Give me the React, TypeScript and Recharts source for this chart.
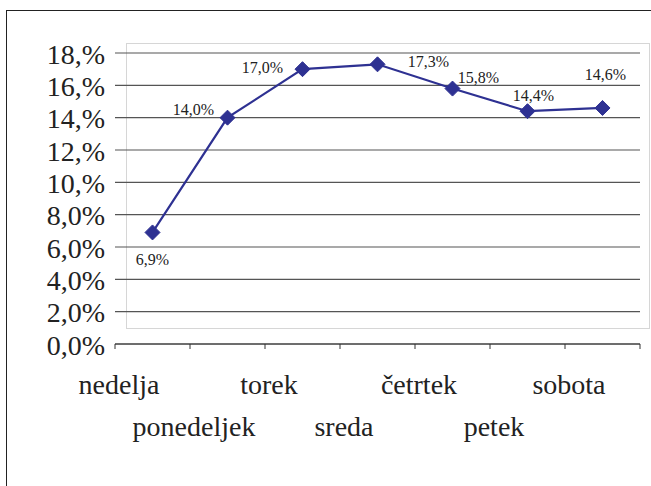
import React from 'react';
import { LineChart, Line, XAxis, YAxis, CartesianGrid } from 'recharts';

const DAYS = ['nedelja', 'ponedeljek', 'torek', 'sreda', 'četrtek', 'petek', 'sobota'];
const SHARES = [6.9, 14.0, 17.0, 17.3, 15.8, 14.4, 14.6];
const VALUE_LABELS = ['6,9%', '14,0%', '17,0%', '17,3%', '15,8%', '14,4%', '14,6%'];
const Y_TICKS = [0, 2, 4, 6, 8, 10, 12, 14, 16, 18];
const Y_TICK_LABELS = ['0,0%', '2,0%', '4,0%', '6,0%', '8,0%', '10,%', '12,%', '14,%', '16,%', '18,%'];
const X_TICKS = [0, 1, 2, 3, 4, 5, 6, 7];

const data = DAYS.map((day, i) => ({ pos: i + 0.5, day, share: SHARES[i], label: VALUE_LABELS[i] }));

// label placement offsets (dx, dy) relative to each point
const LABEL_OFFSETS: [number, number][] = [
  [0, 27], [-34, -8], [-40, -2], [51, -3], [26, -11], [6, -16], [3, -33],
];

const SERIF = '"Liberation Serif", "Times New Roman", Times, serif';
const LINE_COLOR = '#2E3192';

const Diamond = (props: any) => {
  const { cx, cy } = props;
  if (cx == null || cy == null) return null;
  const r = 7.5;
  return (
    <polygon
      points={`${cx},${cy - r} ${cx + r},${cy} ${cx},${cy + r} ${cx - r},${cy}`}
      fill={LINE_COLOR}
      stroke={LINE_COLOR}
    />
  );
};

const renderLabel = (props: any) => {
  const { x, y, index } = props;
  const [dx, dy] = LABEL_OFFSETS[index] || [0, -12];
  return (
    <text
      key={`lbl-${index}`}
      x={x + dx}
      y={y + dy}
      textAnchor="middle"
      dominantBaseline="central"
      style={{ fontFamily: SERIF, fontSize: 16 }}
      fill="#222"
    >
      {data[index].label}
    </text>
  );
};

const XTick = (props: any) => {
  const { x, y, payload } = props;
  const i = payload.value as number;
  const name = DAYS[i] ?? '';
  if (!name) return null;
  const dy = i % 2 === 0 ? 45 : 87;
  return (
    <text x={x + 4} y={y + dy} textAnchor="middle" style={{ fontFamily: SERIF, fontSize: 28 }} fill="#222">
      {name}
    </text>
  );
};

const YTick = (props: any) => {
  const { x, y, payload } = props;
  const idx = Y_TICKS.indexOf(payload.value);
  return (
    <text
      x={x}
      y={y + 1}
      textAnchor="end"
      dominantBaseline="central"
      style={{ fontFamily: SERIF, fontSize: 28 }}
      fill="#222"
    >
      {Y_TICK_LABELS[idx]}
    </text>
  );
};

export default function App() {
  return (
    <div
      style={{
        position: 'absolute',
        left: 0,
        top: 0,
        width: 651,
        height: 486,
        overflow: 'hidden',
        background: '#fff',
        fontFamily: SERIF,
      }}
    >
      <div
        style={{
          position: 'absolute',
          left: 6,
          top: 10,
          width: 700,
          height: 600,
          borderLeft: '1px solid #222',
          borderTop: '1px solid #222',
        }}
      />
      <div
        style={{
          position: 'absolute',
          left: 126,
          top: 43,
          width: 524,
          height: 286,
          boxSizing: 'border-box',
          border: '1px solid #d6d6d6',
        }}
      />
      <div style={{ position: 'absolute', left: 0, top: 0 }}>
        <LineChart
          width={651}
          height={486}
          data={data}
          margin={{ top: 53, right: 11, bottom: 42, left: 0 }}
        >
          <CartesianGrid horizontal vertical={false} stroke="#555" strokeWidth={1.2} />
          <XAxis
            dataKey="pos"
            type="number"
            domain={[0, 7]}
            ticks={X_TICKS}
            interval={0}
            height={100}
            tick={<XTick />}
            tickSize={5}
            tickMargin={0}
            axisLine={{ stroke: '#333' }}
            tickLine={{ stroke: '#333' }}
          />
          <YAxis
            type="number"
            domain={[0, 18]}
            ticks={Y_TICKS}
            interval={0}
            width={115}
            axisLine={false}
            tickLine={false}
            tickSize={0}
            tickMargin={10}
            tick={<YTick />}
          />
          <Line
            type="linear"
            dataKey="share"
            stroke={LINE_COLOR}
            strokeWidth={2.2}
            dot={<Diamond />}
            activeDot={false}
            label={renderLabel}
            isAnimationActive={false}
          />
        </LineChart>
      </div>
    </div>
  );
}
